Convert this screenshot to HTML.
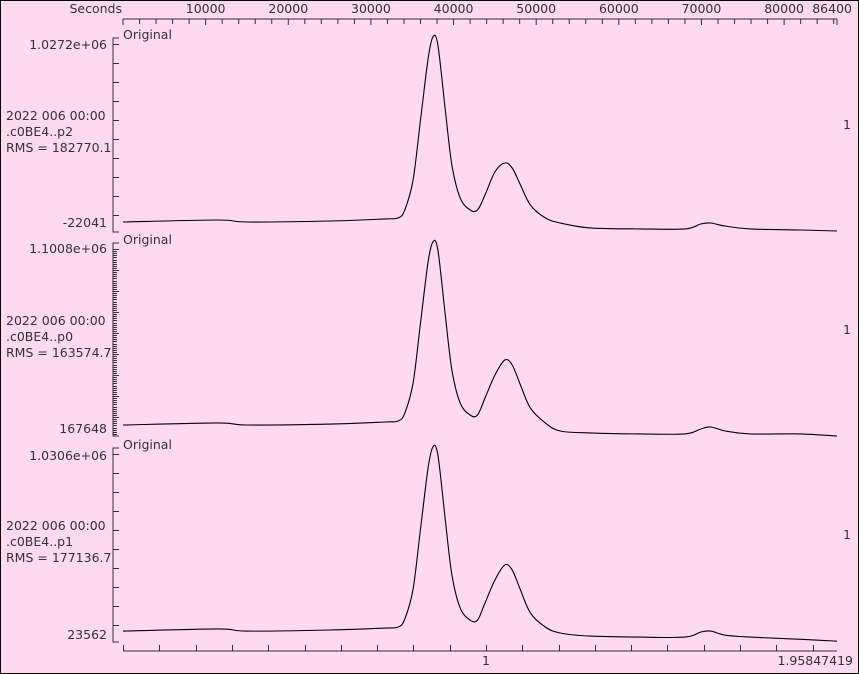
<!DOCTYPE html>
<html><head><meta charset="utf-8"><style>
html,body{margin:0;padding:0;background:#ffd9f0;}
svg{display:block;font-family:"DejaVu Sans","Liberation Sans",sans-serif;font-size:12.5px;fill:#333;}
</style></head><body>
<svg id="chart" width="859" height="674" viewBox="0 0 859 674">
<rect x="0.5" y="0.5" width="858" height="673" fill="#ffd9f0" stroke="#000"/>
<g id="topaxis"></g>
<g id="panels"></g>
<g id="bottomaxis"></g>
</svg>
<script>
const times = [0,11500,15000,25100,31700,33300,34100,35100,36000,36900,37500,38100,39000,39800,40800,42000,42900,43800,45000,46200,47100,48100,49300,51100,52900,56500,62600,68000,69900,71100,72900,75900,82000,86400];
const valuesP2 = [-22,-10,-22,-16,-4,2,49,226,579,933,1069,1021,639,314,120,49,49,137,273,326,296,196,78,2,-28,-57,-63,-63,-34,-28,-46,-63,-69,-75];
const valuesP0 = [183,194,183,188,199,204,245,401,712,1023,1132,1090,753,468,297,235,235,323,442,520,494,390,271,194,152,142,137,137,162,173,152,137,137,126];
const valuesP1 = [40,52,40,46,57,63,108,277,614,952,1076,1031,666,356,170,102,102,198,327,412,383,271,142,63,29,12,6,6,34,40,17,6,-6,-17];
const topTicks = [10000,20000,30000,40000,50000,60000,70000,80000,86400];
const panelNames = [".c0BE4..p2",".c0BE4..p0",".c0BE4..p1"];
const rmsLabels = ["RMS = 182770.1","RMS = 163574.7","RMS = 177136.7"];
const maxLabels = ["1.0272e+06","1.1008e+06","1.0306e+06"];
const minLabels = ["-22041","167648","23562"];
const axisMax = [1027.2,1100.8,1030.6];
const axisMin = [-22.041,167.648,23.562];

const NS="http://www.w3.org/2000/svg";
function mk(tag,attrs,parent,txt){const e=document.createElementNS(NS,tag);for(const k in attrs)e.setAttribute(k,attrs[k]);if(txt!==undefined)e.textContent=txt;parent.appendChild(e);return e;}
const X0=123,X1=837,TMAX=86400;
function xs(t){return X0+t*(X1-X0)/TMAX;}
function smoothPath(P){
  let d='M'+P[0][0].toFixed(1)+','+P[0][1].toFixed(1);
  for(let i=0;i<P.length-1;i++){
    const p0=P[i-1]||P[i],p1=P[i],p2=P[i+1],p3=P[i+2]||P[i+1];
    const c1x=p1[0]+(p2[0]-p0[0])/6,c1y=p1[1]+(p2[1]-p0[1])/6;
    const c2x=p2[0]-(p3[0]-p1[0])/6,c2y=p2[1]-(p3[1]-p1[1])/6;
    d+=` C${c1x.toFixed(1)},${c1y.toFixed(1)} ${c2x.toFixed(1)},${c2y.toFixed(1)} ${p2[0].toFixed(1)},${p2[1].toFixed(1)}`;
  }
  return d;
}

const topG=document.getElementById('topaxis');
mk('line',{x1:X0,y1:19,x2:X1,y2:19,stroke:'#333'},topG);
for(let t=0;t<=86400;t+=2000){
  const l=mk('line',{x1:xs(t),y1:19,x2:xs(t),y2:(t%10000===0?25:24),stroke:'#333'},topG);
  
  
}
mk('line',{x1:X1,y1:19,x2:X1,y2:25,stroke:'#333'},topG);
topTicks.forEach((t,i)=>{
  const tx=mk('text',{x:(t===86400?852:xs(t)),y:13,'text-anchor':(t===86400?'end':'middle')},topG,String(t));
  
  
});
const sec=mk('text',{x:122,y:13,'text-anchor':'end'},topG,'Seconds');



const panelsG=document.getElementById('panels');
const series=[valuesP2,valuesP0,valuesP1];
const geo=[{top:38,bot:232,ymax:44,ymin:222,tick:19},{top:243,bot:436,ymax:248,ymin:428,tick:2.1},{top:448,bot:642,ymax:455,ymin:634,tick:19}];
series.forEach((vals,p)=>{
  const g=mk('g',{},panelsG);
  
  
  const G=geo[p];
  const ys=v=>G.ymin-(v-axisMin[p])*(G.ymin-G.ymax)/(axisMax[p]-axisMin[p]);
  mk('path',{d:`M119,${G.top}H113V${G.bot}H119`,fill:'none',stroke:'#333'},g);
  let k=0;
  for(let y=G.top+6;y<G.bot-2;y+=G.tick,k++){
    const big=(p===1)?(k%10===0):true;
    mk('line',{x1:113,y1:Math.round(y)+0.5,x2:big?119:117,y2:Math.round(y)+0.5,stroke:'#333'},g);
  }
  const t1=mk('text',{x:107,y:G.ymax+5,'text-anchor':'end'},g,maxLabels[p]);
  
  
  const t2=mk('text',{x:107,y:G.ymin+5,'text-anchor':'end'},g,minLabels[p]);
  
  
  const mid=G.top+82;
  const a=mk('text',{x:6,y:mid},g,'2022 006 00:00');
  
  
  const b=mk('text',{x:6,y:mid+16},g,panelNames[p]);
  
  
  const c=mk('text',{x:6,y:mid+32},g,rmsLabels[p]);
  
  
  const o=mk('text',{x:123,y:G.top+1},g,'Original');
  
  
  const one=mk('text',{x:843,y:G.top+91},g,'1');
  
  
  const P=vals.map((v,i)=>[xs(times[i]),ys(v)]);
  const line=mk('path',{d:smoothPath(P),fill:'none',stroke:'#000','stroke-width':1.1,'stroke-linejoin':'round'},g);
  
  
});

const botG=document.getElementById('bottomaxis');
mk('line',{x1:X0,y1:651,x2:X1,y2:651,stroke:'#333'},botG);
for(let x=X0;x<=X1+1;x+=36.3){
  mk('line',{x1:Math.round(x)+0.5,y1:645,x2:Math.round(x)+0.5,y2:651,stroke:'#333'},botG);
}
const b1=mk('text',{x:486,y:665,'text-anchor':'middle'},botG,'1');


const b2=mk('text',{x:853,y:665,'text-anchor':'end'},botG,'1.95847419');


</script>
</body></html>
